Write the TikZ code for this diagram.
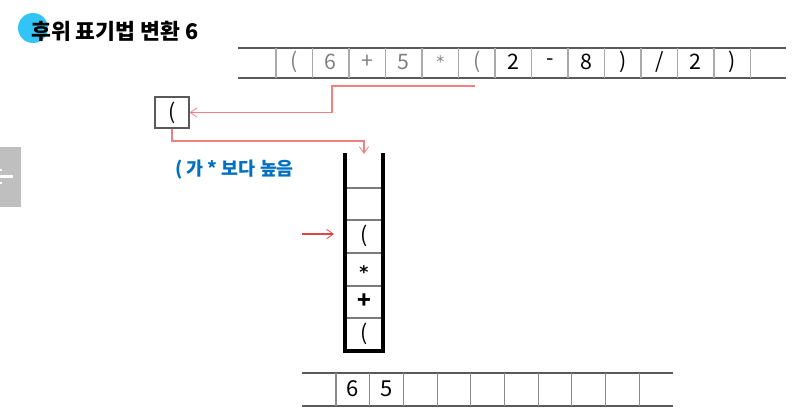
\documentclass[tikz,border=0pt]{standalone}
\usepackage{fontspec}
\setmainfont{Noto Sans CJK KR}
\newfontfamily\astf{DejaVu Sans}
\usetikzlibrary{arrows.meta}
\definecolor{tgray}{RGB}{128,128,128}
\definecolor{lgray}{RGB}{170,170,170}
\definecolor{dgray}{RGB}{90,90,90}
\definecolor{pinkred}{RGB}{238,130,130}
\definecolor{redar}{RGB}{225,70,70}
\definecolor{kblue}{RGB}{0,112,192}
\definecolor{cyanc}{RGB}{50,196,244}
\definecolor{boxgray}{RGB}{191,191,191}
\tikzset{
  cellt/.style={font=\fontsize{16}{18}\selectfont, inner sep=0pt, anchor=center},
  graytxt/.style={cellt, text=tgray},
  blacktxt/.style={cellt, text=black},
  pline/.style={draw=pinkred, line width=0.8pt},
  parrow/.style={pline, -{Straight Barb[length=5pt,width=7pt,line width=0.6pt]}},
  rarrow/.style={draw=redar, line width=0.8pt, -{Straight Barb[length=5pt,width=7pt,line width=0.6pt]}},
  divider/.style={draw=lgray, line width=0.8pt},
  hline/.style={draw=dgray, line width=1pt},
  wall/.style={draw=black, line width=2.4pt},
}
\begin{document}
\begin{tikzpicture}[x=0.75pt,y=-0.75pt]
\useasboundingbox (0,0) rectangle (805,414);
% title
\fill[cyanc] (33,28) circle (15);
\node[anchor=west, inner sep=0pt, font=\fontsize{16.2}{18}\selectfont\bfseries] (title) at (31,31) {후위 표기법 변환 6};
% left gray tab
\fill[boxgray] (0,147) rectangle (21,207);
\fill[white] (0,175) rectangle (13,177.5);
\fill[white] (0,168.5) rectangle (1.5,170.5);
\fill[white] (0,182) rectangle (1.5,184);
% top array
\draw[hline] (238,48) -- (786,48);
\draw[hline] (238,78) -- (786,78);
\foreach \x in {276,312.5,349,385.5,422,458.5,495,531.5,568,604.5,641,677.5,714,750.5}
  \draw[divider] (\x,48) -- (\x,78);
\node[graytxt] (t1) at (294.25,62) {(};
\node[graytxt] (t2) at (330.75,62) {6};
\node[graytxt] (t3) at (367.25,62) {+};
\node[graytxt] (t4) at (403.75,62) {5};
\node[graytxt, font=\fontsize{12}{14}\astf] (t5) at (440.25,62) {*};
\node[graytxt] (t6) at (476.75,62) {(};
\node[blacktxt] (t7) at (513.25,62) {2};
\node[blacktxt] (t8) at (549.75,62) {-};
\node[blacktxt] (t9) at (586.25,62) {8};
\node[blacktxt] (t10) at (622.75,62) {)};
\node[blacktxt] (t11) at (659.25,62) {/};
\node[blacktxt] (t12) at (695.75,62) {2};
\node[blacktxt] (t13) at (732.25,62) {)};
% small box
\node[draw=dgray, line width=1pt, minimum width=34*0.75pt, minimum height=31*0.75pt, inner sep=0pt, font=\fontsize{16}{18}\selectfont] (tok) at (172,112.5) {(};
\coordinate (c1) at (475,86);
\coordinate (c2) at (332,86);
\coordinate (c3) at (332,112.5);
\draw[parrow] (c1) -- (c2) -- (c3) -- (tok.east);
\coordinate (d1) at (172,141);
\coordinate (d2) at (364,141);
\coordinate (d3) at (364,154);
\draw[parrow] (tok.south) -- (d1) -- (d2) -- (d3);
% blue text
\node[anchor=west, inner sep=0pt, text=kblue, font=\fontsize{13.8}{16}\selectfont\bfseries] (note) at (175,170) {( 가 * 보다 높음};
% stack
\foreach \y in {188,220,253,286,318}
  \draw[divider, draw=dgray!80] (345,\y) -- (383,\y);
\draw[wall] (345,153) -- (345,351) -- (383,351) -- (383,153);
\node[blacktxt] (s1) at (364,236) {(};
\node[blacktxt, font=\fontsize{13}{15}\astf\bfseries] (s2) at (364,272) {*};
\node[blacktxt, font=\fontsize{17}{19}\selectfont\bfseries] (s3) at (364,301.5) {+};
\node[blacktxt] (s4) at (364,334) {(};
\coordinate (a1) at (302,234);
\coordinate (a2) at (334,234);
\draw[rarrow] (a1) -- (a2);
% bottom array
\draw[hline] (302,373) -- (673,373);
\draw[hline] (302,406) -- (673,406);
\foreach \x in {336,369.7,403.4,437.1,470.8,504.5,538.2,571.9,605.6,639.3}
  \draw[divider, draw=dgray!70] (\x,373) -- (\x,406);
\node[blacktxt, font=\fontsize{16.5}{18}\selectfont] (b1) at (352.8,389) {6};
\node[blacktxt, font=\fontsize{16.5}{18}\selectfont] (b2) at (386.5,389) {5};
\end{tikzpicture}
\end{document}
